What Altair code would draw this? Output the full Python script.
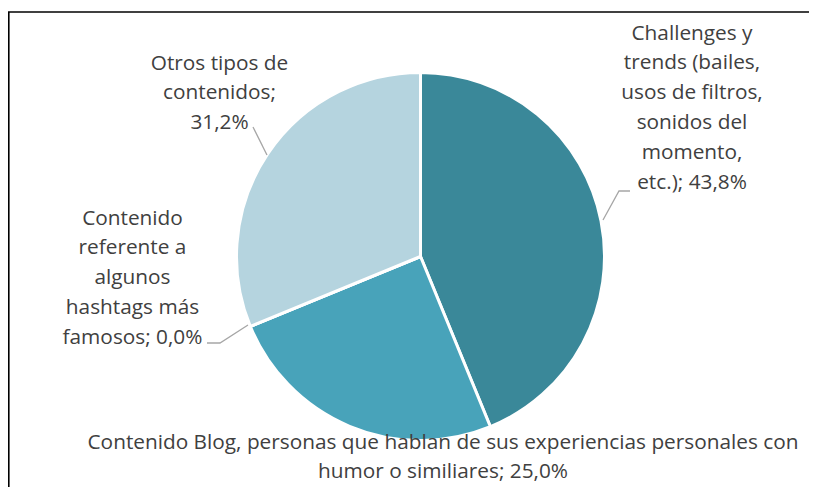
import altair as alt
import pandas as pd

# ---- data ----
categories = [
    "Challenges y trends (bailes, usos de filtros, sonidos del momento, etc.)",
    "Contenido Blog, personas que hablan de sus experiencias personales con humor o similiares",
    "Contenido referente a algunos hashtags más famosos",
    "Otros tipos de contenidos",
]
values = [43.8, 25.0, 0.0, 31.2]
label_lines = [
    ["Challenges y", "trends (bailes,", "usos de filtros,", "sonidos del", "momento,", "etc.); 43,8%"],
    ["Contenido Blog, personas que hablan de sus experiencias personales con", "humor o similiares; 25,0%"],
    ["Contenido", "referente a", "algunos", "hashtags más", "famosos; 0,0%"],
    ["Otros tipos de", "contenidos;", "31,2%"],
]
colors = ["#3A8899", "#48A3BA", "#2E7686", "#B5D4DF"]

# ---- layout (pixels in the plot area) ----
W, H = 801, 479
CX, CY, R = 412.5, 248.5, 184
# centre x and first-line centre y of each label block
label_pos = [(684, 25.5), (435, 434.5), (124.5, 210.5), (211.5, 55.5)]
leaders = [
    [(595, 212), (611, 183), (622, 183)],
    [],
    [(240, 317), (212, 335), (199, 335)],
    [(259, 147), (245, 119)],
]
FONT = "Open Sans"
FS = 20.8
LH = 29.8

df = pd.DataFrame({"cat": categories, "value": values, "order": list(range(len(values)))})

pie = alt.Chart(df).mark_arc(outerRadius=R, stroke="white", strokeWidth=3).encode(
    theta=alt.Theta("value:Q", stack=True),
    order=alt.Order("order:Q"),
    color=alt.Color("cat:N", scale=alt.Scale(domain=categories, range=colors), legend=None),
    x=alt.value(CX),
    y=alt.value(CY),
)

lrows = []
for i, pts in enumerate(leaders):
    for j, (px, py) in enumerate(pts):
        lrows.append({"g": i, "k": j, "x": px, "y": py})
ldf = pd.DataFrame(lrows)
lead = alt.Chart(ldf).mark_line(color="#A6A6A6", strokeWidth=1.3).encode(
    x=alt.X("x:Q", scale=None, axis=None),
    y=alt.Y("y:Q", scale=None, axis=None),
    detail="g:N",
    order="k:Q",
)

trows = []
for i, lines in enumerate(label_lines):
    trows.append({"txt": "\n".join(lines), "x": label_pos[i][0], "y": label_pos[i][1]})
tdf = pd.DataFrame(trows)
labels = alt.Chart(tdf).mark_text(
    font=FONT, fontSize=FS, color="#404040", align="center", baseline="middle",
    lineBreak="\n", lineHeight=LH,
).encode(
    x=alt.X("x:Q", scale=None, axis=None),
    y=alt.Y("y:Q", scale=None, axis=None),
    text="txt:N",
)

top_border = alt.Chart(pd.DataFrame({"a": [0]})).mark_rule(color="black", strokeWidth=1.6).encode(
    x=alt.value(0), x2=alt.value(W), y=alt.value(4)
)
left_border = alt.Chart(pd.DataFrame({"a": [0]})).mark_rule(color="black", strokeWidth=1.6).encode(
    x=alt.value(0.8), y=alt.value(4), y2=alt.value(H)
)

chart = alt.layer(pie, lead, labels, top_border, left_border).properties(
    width=W, height=H, autosize=alt.AutoSizeParams(type="none"), padding=0
).configure_view(stroke=None)

chart.save("out.html", embed_options={"renderer": "svg", "actions": False})
